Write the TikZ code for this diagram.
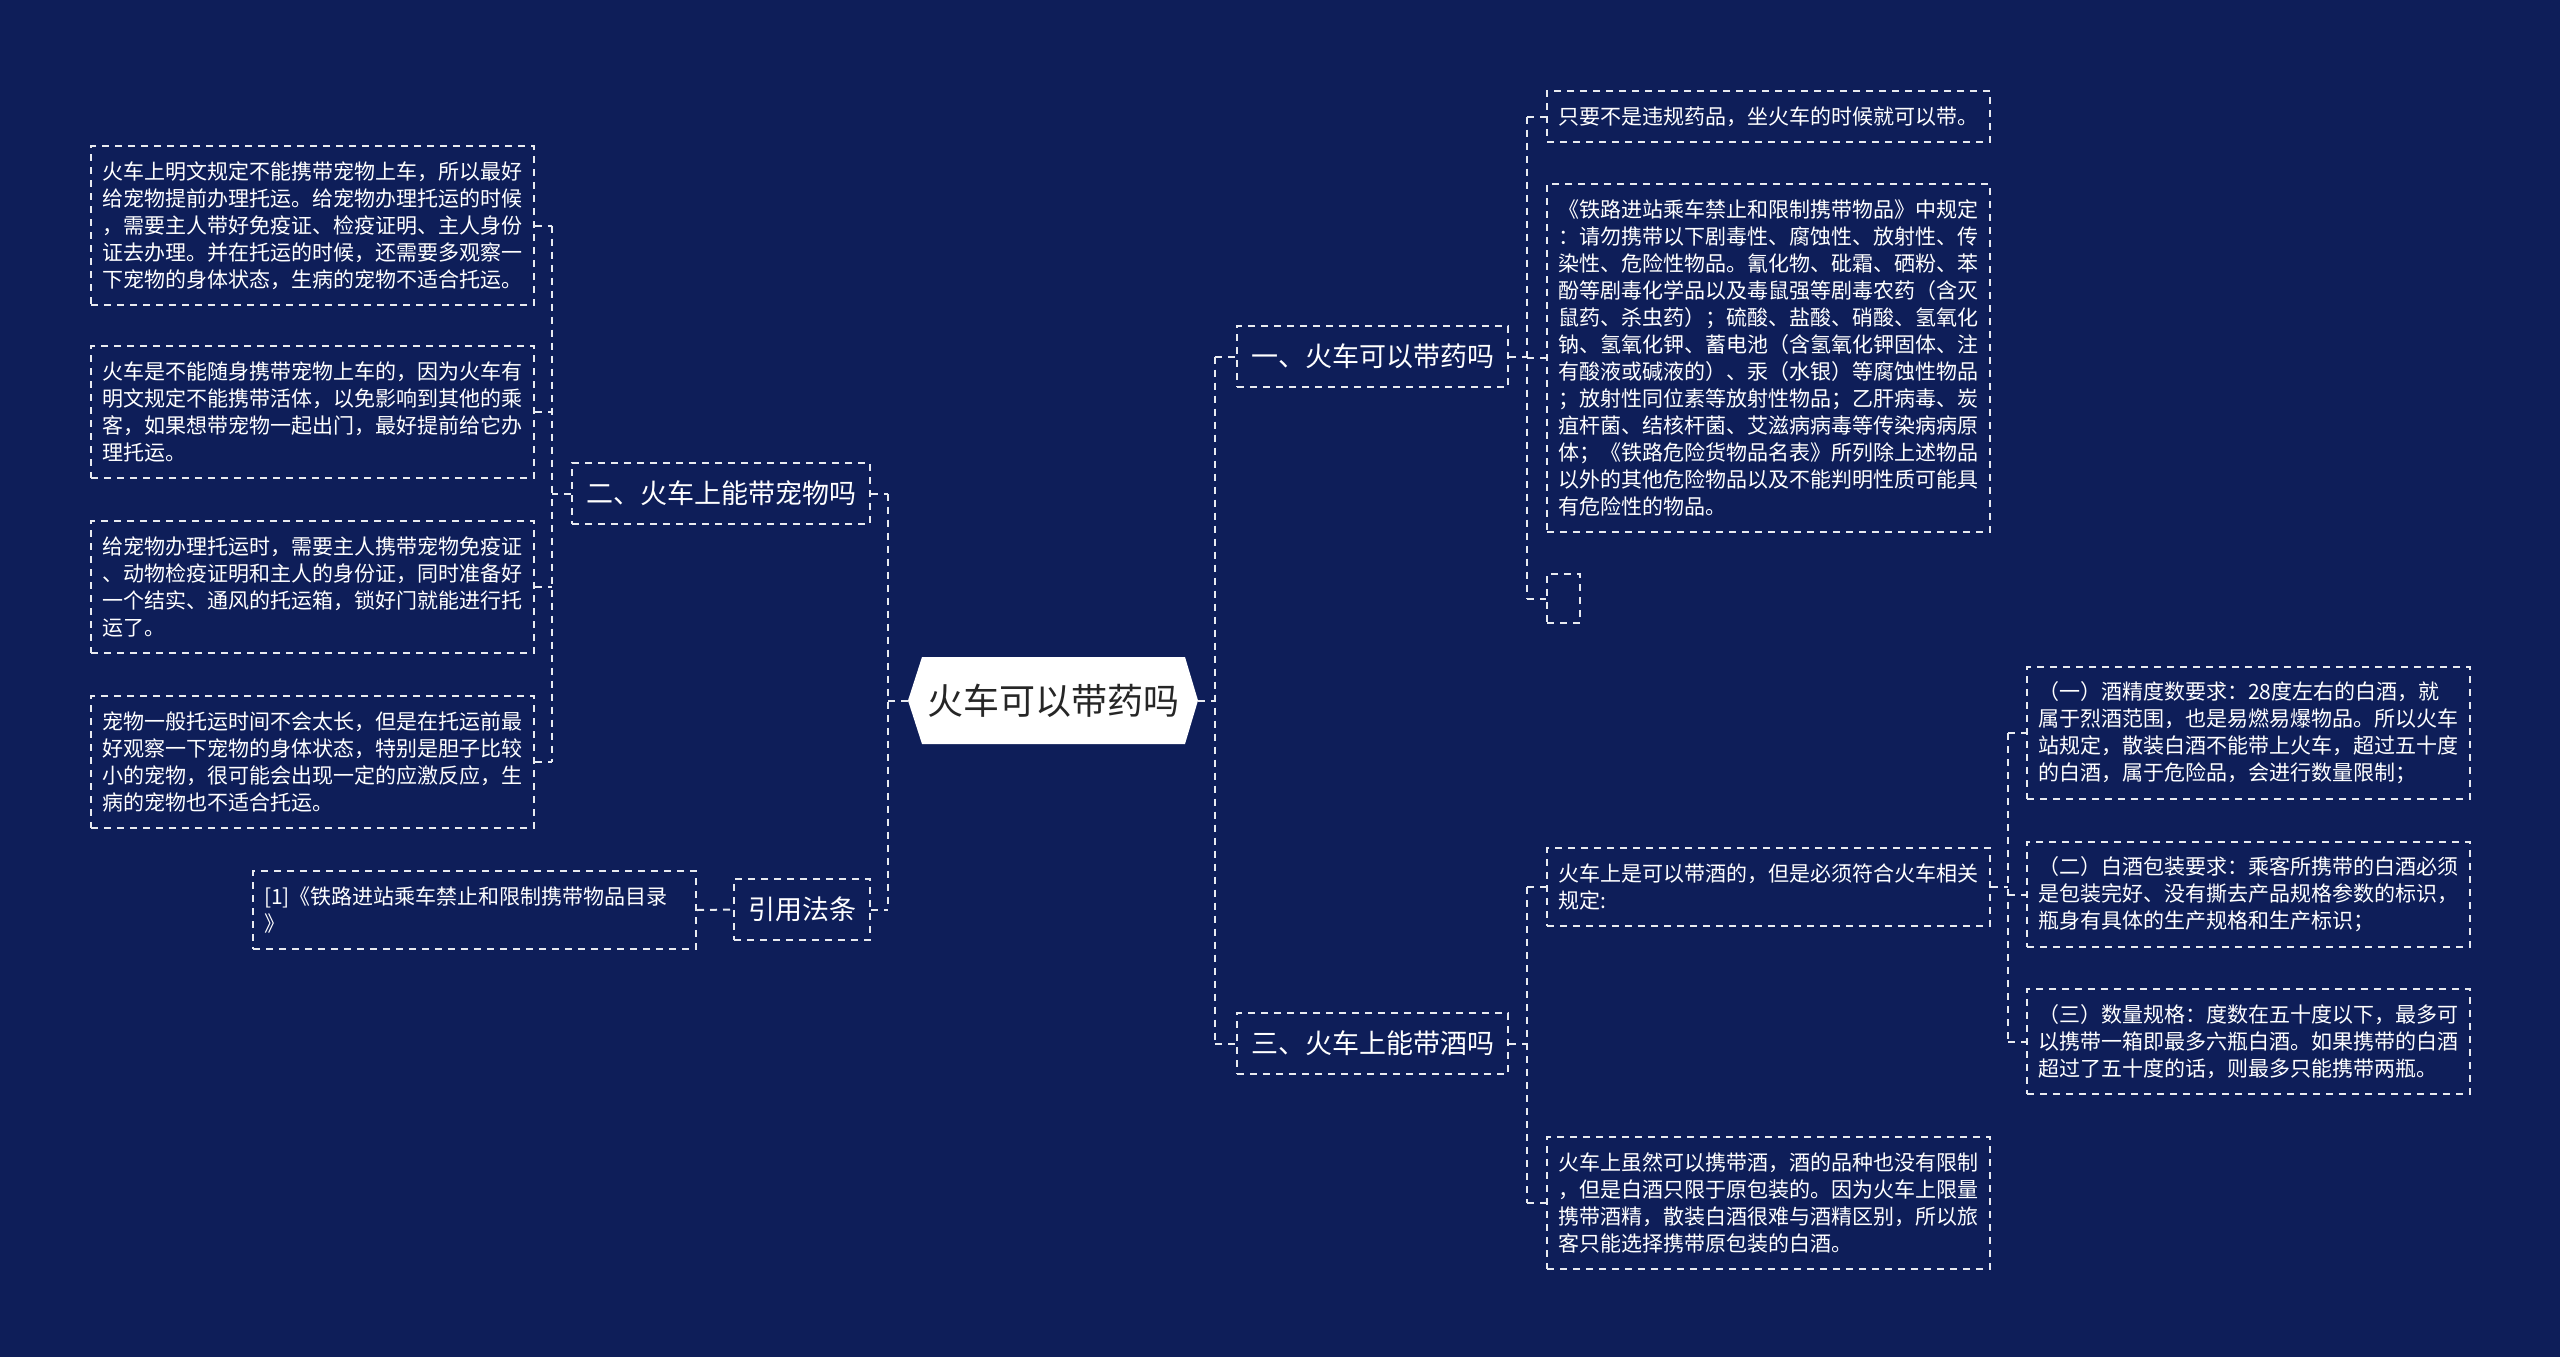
\documentclass[tikz,border=0pt]{standalone}
\usepackage{fontspec}
\setmainfont{Noto Sans CJK SC}
\usetikzlibrary{calc}
\definecolor{bg}{RGB}{14,30,89}
\definecolor{ln}{RGB}{232,234,240}
\begin{document}
\begin{tikzpicture}[x=0.5pt,y=-0.5pt,
  dsh/.style={draw=ln, line width=1pt, dash pattern=on 3.5pt off 3pt},
  conn/.style={dsh},
  tbox/.style={dsh, anchor=north west, text=white,
    font=\fontsize{10.5}{13.5}\selectfont, align=left,
    text width=210.5pt, inner xsep=5.5pt, inner ysep=0pt},
  lvl/.style={dsh, anchor=north west, text=white,
    font=\fontsize{13.5}{16}\selectfont, inner sep=0pt, minimum height=30.5pt},
  ctr/.style={anchor=north west, inner sep=0pt, minimum width=131.5pt,
    minimum height=43.5pt, font=\fontsize{18}{20}\selectfont, text={black!85}}
]
\fill[bg] (0,0) rectangle (2560,1357);
\useasboundingbox (0,0) rectangle (2560,1357);

% trunk x positions
\coordinate (tl1) at (552,0);
\coordinate (tl2) at (888,0);
\coordinate (tR) at (1215,0);
\coordinate (t1) at (1527,0);
\coordinate (t3) at (2008,0);

% center hexagon
\coordinate (cL) at (908,700.5);
\coordinate (cR) at (1198,700.5);
\fill[white] (922,657) -- (1185,657) -- (cR) -- (1185,744) -- (922,744) -- (cL) -- cycle;
\node[ctr] (C) at (922,657) {火车可以带药吗};

% left side
\node[tbox, minimum height=79.5pt] (L1) at (90,145) {火车上明文规定不能携带宠物上车，所以最好\\给宠物提前办理托运。给宠物办理托运的时候\\，需要主人带好免疫证、检疫证明、主人身份\\证去办理。并在托运的时候，还需要多观察一\\下宠物的身体状态，生病的宠物不适合托运。};
\node[tbox, minimum height=66pt] (L2) at (90,345) {火车是不能随身携带宠物上车的，因为火车有\\明文规定不能携带活体，以免影响到其他的乘\\客，如果想带宠物一起出门，最好提前给它办\\理托运。};
\node[tbox, minimum height=66pt] (L3) at (90,520) {给宠物办理托运时，需要主人携带宠物免疫证\\、动物检疫证明和主人的身份证，同时准备好\\一个结实、通风的托运箱，锁好门就能进行托\\运了。};
\node[tbox, minimum height=66pt] (L4) at (90,695) {宠物一般托运时间不会太长，但是在托运前最\\好观察一下宠物的身体状态，特别是胆子比较\\小的宠物，很可能会出现一定的应激反应，生\\病的宠物也不适合托运。};
\node[lvl, minimum width=149pt] (n2) at (571,462) {二、火车上能带宠物吗};
\node[tbox, minimum height=39pt] (R) at (252,870) {[1]《铁路进站乘车禁止和限制携带物品目录\\》};
\node[lvl, minimum width=68pt] (yin) at (733,878) {引用法条};

% right side
\node[lvl, minimum width=135.5pt] (n1) at (1236,325) {一、火车可以带药吗};
\node[lvl, minimum width=135.5pt] (n3) at (1236,1012) {三、火车上能带酒吗};
\node[tbox, minimum height=25.5pt] (A) at (1546,90) {只要不是违规药品，坐火车的时候就可以带。};
\node[tbox, minimum height=174pt] (B) at (1546,183) {《铁路进站乘车禁止和限制携带物品》中规定\\：请勿携带以下剧毒性、腐蚀性、放射性、传\\染性、危险性物品。氰化物、砒霜、硒粉、苯\\酚等剧毒化学品以及毒鼠强等剧毒农药（含灭\\鼠药、杀虫药）；硫酸、盐酸、硝酸、氢氧化\\钠、氢氧化钾、蓄电池（含氢氧化钾固体、注\\有酸液或碱液的）、汞（水银）等腐蚀性物品\\；放射性同位素等放射性物品；乙肝病毒、炭\\疽杆菌、结核杆菌、艾滋病病毒等传染病病原\\体；《铁路危险货物品名表》所列除上述物品\\以外的其他危险物品以及不能判明性质可能具\\有危险性的物品。};
\node[dsh, anchor=north west, inner sep=0pt, minimum width=16.5pt, minimum height=24.5pt] (E0) at (1546,573) {};
\node[tbox, minimum height=39pt] (D) at (1546,847) {火车上是可以带酒的，但是必须符合火车相关\\规定:};
\node[tbox, minimum height=66pt] (E) at (1546,1136) {火车上虽然可以携带酒，酒的品种也没有限制\\，但是白酒只限于原包装的。因为火车上限量\\携带酒精，散装白酒很难与酒精区别，所以旅\\客只能选择携带原包装的白酒。};
\node[tbox, minimum height=66pt] (F) at (2026,666) {（一）酒精度数要求：28度左右的白酒，就\\属于烈酒范围，也是易燃易爆物品。所以火车\\站规定，散装白酒不能带上火车，超过五十度\\的白酒，属于危险品，会进行数量限制；};
\node[tbox, minimum height=52.5pt] (G) at (2026,841) {（二）白酒包装要求：乘客所携带的白酒必须\\是包装完好、没有撕去产品规格参数的标识，\\瓶身有具体的生产规格和生产标识；};
\node[tbox, minimum height=52.5pt] (H) at (2026,988) {（三）数量规格：度数在五十度以下，最多可\\以携带一箱即最多六瓶白酒。如果携带的白酒\\超过了五十度的话，则最多只能携带两瓶。};

% connectors: pets group
\draw[conn] (L1.east -| tl1) -- (L4.east -| tl1);
\foreach \n in {L1,L2,L3,L4} \draw[conn] (\n.east) -- (\n.east -| tl1);
\draw[conn] (n2.west) -- (n2.west -| tl1);
% left trunk
\draw[conn] (n2.east -| tl2) -- (yin.east -| tl2);
\draw[conn] (n2.east) -- (n2.east -| tl2);
\draw[conn] (yin.east) -- (yin.east -| tl2);
\draw[conn] (cL) -- (cL -| tl2);
\draw[conn] (R.east) -- (yin.west);
% right trunk
\draw[conn] (n1.west -| tR) -- (n3.west -| tR);
\draw[conn] (cR) -- (cR -| tR);
\draw[conn] (n1.west -| tR) -- (n1.west);
\draw[conn] (n3.west -| tR) -- (n3.west);
% medicine group
\draw[conn] (A.west -| t1) -- (E0.west -| t1);
\draw[conn] (n1.east) -- (n1.east -| t1);
\foreach \n in {A,B,E0} \draw[conn] (\n.west -| t1) -- (\n.west);
% alcohol group
\draw[conn] (D.west -| t1) -- (E.west -| t1);
\draw[conn] (n3.east) -- (n3.east -| t1);
\foreach \n in {D,E} \draw[conn] (\n.west -| t1) -- (\n.west);
% alcohol rules
\draw[conn] (F.west -| t3) -- (H.west -| t3);
\draw[conn] (D.east) -- (D.east -| t3);
\foreach \n in {F,G,H} \draw[conn] (\n.west -| t3) -- (\n.west);
\end{tikzpicture}
\end{document}
